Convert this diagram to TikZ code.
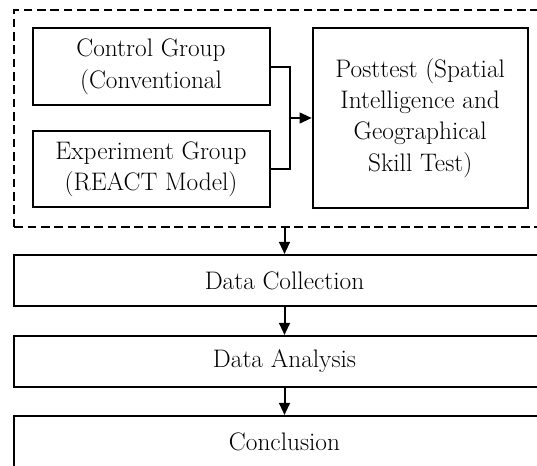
\documentclass[tikz,border=0pt]{standalone}
\usetikzlibrary{arrows.meta}

\tikzset{every picture/.style={line width=0.75pt}}
\tikzset{
  stage/.style={draw, line width=1.5pt, align=center, inner sep=0pt, font=\fontsize{19}{23.5}\selectfont},
  wide/.style={stage, minimum width=405.4pt, minimum height=38.25pt},
  link/.style={line width=1.5pt},
  flow/.style={line width=1.5pt, -{Triangle[length=9pt,width=8pt]}},
}

\begin{document}
\begin{tikzpicture}[x=0.75pt,y=0.75pt,yscale=-1,xscale=1]
\useasboundingbox (0,0) rectangle (537,466);

% Dashed frame round the groups and the posttest
\node [draw, line width=1.5pt, dash pattern={on 6.5pt off 3.5pt}, minimum width=405.4pt, minimum height=162.75pt, inner sep=0pt] (frame) at (284.5,118.5) {};

% Groups
\node [stage, minimum width=177.75pt, minimum height=57.5pt] (control) at (151,66.7) {Control Group\\(Conventional};
\node [stage, minimum width=177.75pt, minimum height=57.5pt] (experiment) at (151,169) {Experiment Group\\(REACT Model)};
% Posttest
\node [stage, minimum width=161.25pt, minimum height=134.5pt] (posttest) at (420.2,118) {Posttest (Spatial\\Intelligence and\\Geographical\\Skill Test)};

% Steps after the treatment
\node [wide] (collection) at (284.5,280.5) {Data Collection};
\node [wide] (analysis) at (284.5,361.5) {Data Analysis};
\node [wide] (conclusion) at (284.5,441.5) {Conclusion};

% Connectors
\coordinate (join) at (290,118);
\draw [link] (control.east) -| (join) |- (experiment.east);
\draw [flow] (join) -- (posttest.west);
\draw [flow] (frame.south) -- (collection.north);
\draw [flow] (collection) -- (analysis);
\draw [flow] (analysis) -- (conclusion);

\end{tikzpicture}
\end{document}
